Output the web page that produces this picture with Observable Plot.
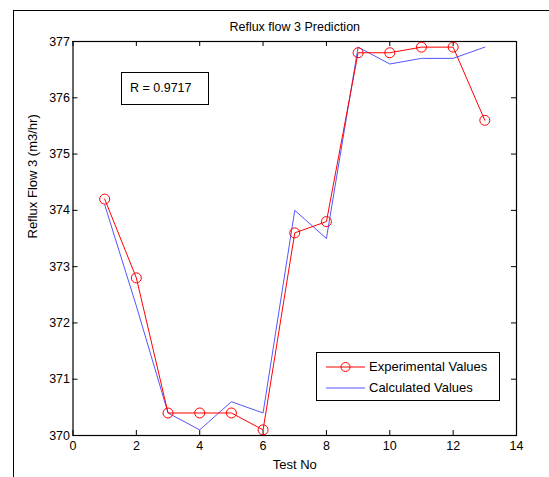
<!DOCTYPE html>
<html><head><meta charset="utf-8">
<script src="https://cdn.jsdelivr.net/npm/d3@7"></script>
<script src="https://cdn.jsdelivr.net/npm/@observablehq/plot@0.6"></script>
<style>
body{margin:0;background:#fff;font-family:"Liberation Sans",Arial,sans-serif;}
#wrap{position:relative;width:549px;height:477px;overflow:hidden;}
#outer{position:absolute;left:13px;top:10px;width:600px;height:600px;border-top:1px solid #000;border-left:1px solid #000;}
.box{position:absolute;background:#fff;border:1px solid #000;box-sizing:border-box;font-size:13px;color:#000;}
</style></head>
<body><div id="wrap"><div id="outer"></div></div>
<script>
const testNo = [1,2,3,4,5,6,7,8,9,10,11,12,13];
const experimental = [374.2,372.8,370.4,370.4,370.4,370.1,373.6,373.8,376.8,376.8,376.9,376.9,375.6];
const calculated = [374.1,372.3,370.4,370.1,370.6,370.4,374.0,373.5,376.9,376.6,376.7,376.7,376.9];
const xTicks = [0,2,4,6,8,10,12,14];
const yTicks = [370,371,372,373,374,375,376,377];
const titleText = "Reflux flow 3 Prediction";
const xLabel = "Test No";
const yLabel = "Reflux Flow 3 (m3/hr)";
const rText = "R = 0.9717";
const seriesNames = ["Experimental Values","Calculated Values"];

const expData = testNo.map((t,i)=>({t, v: experimental[i]}));
const calData = testNo.map((t,i)=>({t, v: calculated[i]}));

const W=549,H=477, mL=72.5, mR=33, mT=41, mB=42;
const fw = W-mL-mR, fh = H-mT-mB;
const RED="#ff0000", BLUE="#5555ff";

const chart = Plot.plot({
  width: W, height: H,
  marginLeft: mL, marginRight: mR, marginTop: mT, marginBottom: mB,
  style: {fontFamily: '"Liberation Sans", Arial, sans-serif', fontSize: "12.5px", background: "transparent", overflow: "visible"},
  x: {domain: [0,14], axis: null},
  y: {domain: [370,377], axis: null},
  marks: [
    Plot.frame({stroke: "#000", strokeWidth: 1.2}),
    Plot.tickX(xTicks, {x: d=>d, stroke:"#000", insetTop: fh-5}),
    Plot.tickX(xTicks, {x: d=>d, stroke:"#000", insetBottom: fh-5}),
    Plot.tickY(yTicks, {y: d=>d, stroke:"#000", insetRight: fw-5}),
    Plot.tickY(yTicks, {y: d=>d, stroke:"#000", insetLeft: fw-5}),
    Plot.axisX(xTicks, {anchor:"bottom", tickSize:0, tickPadding:6, label:null, fontSize:12.5, tickFormat: d3.format("d")}),
    Plot.axisY(yTicks, {anchor:"left", tickSize:0, tickPadding:3, label:null, fontSize:12.5, tickFormat: d3.format("d")}),
    Plot.line(calData, {x:"t", y:"v", stroke: BLUE, strokeWidth: 1}),
    Plot.line(expData, {x:"t", y:"v", stroke: RED, strokeWidth: 1}),
    Plot.dot(expData, {x:"t", y:"v", r:5, stroke: RED, fill:"none", strokeWidth:1}),
    Plot.text([titleText], {frameAnchor:"top", dy:-19, fontSize:12.5, fill:"#000"}),
    Plot.text([xLabel], {frameAnchor:"bottom", dy:33, fontSize:13, fill:"#000"}),
    Plot.text([yLabel], {frameAnchor:"left", dx:-40, rotate:-90, fontSize:13, fill:"#000"})
  ]
});
const wrap = document.getElementById("wrap");
chart.style.position="absolute"; chart.style.left="0"; chart.style.top="0";
wrap.appendChild(chart);

// R annotation box
const rb = document.createElement("div");
rb.className="box";
Object.assign(rb.style,{left:"121px",top:"72px",width:"88px",height:"33px",lineHeight:"31px",paddingLeft:"8px",fontSize:"12.5px"});
rb.textContent = rText;
wrap.appendChild(rb);

// legend
const lg = document.createElement("div");
lg.className="box";
Object.assign(lg.style,{left:"316px",top:"352px",width:"184px",height:"49px"});
const mk = (i,y)=>{
  const row=document.createElement("div");
  Object.assign(row.style,{position:"absolute",left:"0",top:y+"px",height:"18px",width:"180px"});
  const svg=document.createElementNS("http://www.w3.org/2000/svg","svg");
  svg.setAttribute("width","50");svg.setAttribute("height","18");
  Object.assign(svg.style,{position:"absolute",left:"8px",top:"0"});
  const ln=document.createElementNS(svg.namespaceURI,"line");
  ln.setAttribute("x1","1");ln.setAttribute("x2","40");ln.setAttribute("y1","9");ln.setAttribute("y2","9");
  ln.setAttribute("stroke",i===0?RED:BLUE);ln.setAttribute("stroke-width","1");
  svg.appendChild(ln);
  if(i===0){const c=document.createElementNS(svg.namespaceURI,"circle");c.setAttribute("cx","20.5");c.setAttribute("cy","9");c.setAttribute("r","4.5");c.setAttribute("fill","none");c.setAttribute("stroke",RED);svg.appendChild(c);}
  row.appendChild(svg);
  const tx=document.createElement("span");
  Object.assign(tx.style,{position:"absolute",left:"52px",top:"0",lineHeight:"18px",fontSize:"13px",whiteSpace:"nowrap"});
  tx.textContent=seriesNames[i];
  row.appendChild(tx);
  lg.appendChild(row);
};
mk(0,5); mk(1,26);
wrap.appendChild(lg);
</script>
</body></html>
